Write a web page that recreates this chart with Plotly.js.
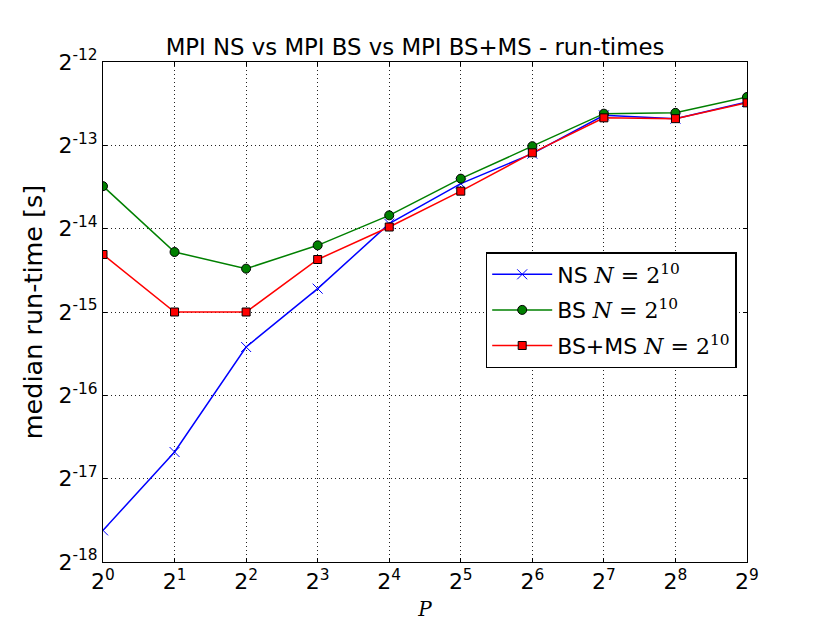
<!DOCTYPE html>
<html>
<head>
<meta charset="utf-8">
<script src="https://cdn.plot.ly/plotly-3.0.1.min.js"></script>
<style>html,body{margin:0;padding:0;background:#fff;}#chart{width:830px;height:623px;}</style>
</head>
<body>
<div id="chart"></div>
<script>
// Processor counts P
const P = [1, 2, 4, 8, 16, 32, 64, 128, 256, 512];
// log2 of median run-time [s]
const nsLog2   = [-17.62, -16.68, -15.42, -14.72, -13.94, -13.46, -13.10, -12.64, -12.68, -12.48];
const bsLog2   = [-13.49, -14.28, -14.48, -14.20, -13.84, -13.40, -13.01, -12.62, -12.61, -12.42];
const bsmsLog2 = [-14.31, -15.00, -15.00, -14.37, -13.98, -13.55, -13.09, -12.67, -12.68, -12.49];
const xTickExp = [0,1,2,3,4,5,6,7,8,9];
const yTickExp = [-18,-17,-16,-15,-14,-13,-12];
const mathN = '<span style="font-family:DejaVu Serif, serif"><i>N</i> = 2<sup>10</sup></span>';
const seriesNames = ['NS ' + mathN, 'BS ' + mathN, 'BS+MS ' + mathN];

const toVal = a => a.map(e => Math.pow(2, e));

const traces = [
  {x: P, y: toVal(nsLog2), name: seriesNames[0], legendgroup: 'a', mode: 'lines+markers',
   line: {color: '#0000ff', width: 1.5},
   marker: {symbol: 'x-thin', size: 10, color: '#0000ff', line: {color: '#0000ff', width: 1}}},
  {x: P, y: toVal(bsLog2), name: seriesNames[1], legendgroup: 'b', mode: 'lines+markers',
   line: {color: '#008000', width: 1.5},
   marker: {symbol: 'circle', size: 9, color: '#008000', line: {color: '#000', width: 1}}},
  {x: P, y: toVal(bsmsLog2), name: seriesNames[2], legendgroup: 'c', mode: 'lines+markers',
   line: {color: '#ff0000', width: 1.5},
   marker: {symbol: 'square', size: 8, color: '#ff0000', line: {color: '#000', width: 1}}}
];

const font = 'DejaVu Sans, sans-serif';
const axisCommon = {
  tickfont: {size: 22, family: font},
  ticks: 'inside', ticklen: 4, tickcolor: '#000', mirror: 'ticks',
  showline: true, linecolor: '#000', linewidth: 1,
  showgrid: true, gridcolor: '#222', griddash: '1px,3px', gridwidth: 1,
  zeroline: false
};
const layout = {
  width: 830, height: 623,
  margin: {l: 103, r: 83, t: 62, b: 61},
  paper_bgcolor: '#fff', plot_bgcolor: '#fff',
  font: {family: font, color: '#000'},
  title: {text: 'MPI NS vs MPI BS vs MPI BS+MS - run-times', font: {size: 22.8, family: font}, x: 0.5, xanchor: 'center', y: 0.925, yanchor: 'middle'},
  xaxis: Object.assign({}, axisCommon, {
    type: 'log', range: [0, 9 * Math.log10(2)],
    tickvals: xTickExp.map(e => Math.pow(2, e)),
    ticktext: xTickExp.map(e => '2<sup>' + e + '</sup>'),
    title: {text: '<i>P</i>', font: {size: 20, family: 'DejaVu Serif, serif'}, standoff: 8}
  }),
  yaxis: Object.assign({}, axisCommon, {
    type: 'log', range: [-18 * Math.log10(2), -12 * Math.log10(2)],
    tickvals: yTickExp.map(e => Math.pow(2, e)),
    ticktext: yTickExp.map(e => '2<sup>' + e + '</sup>'),
    title: {text: 'median run-time [s]', font: {size: 25.5, family: font}, standoff: 8}
  }),
  legend: {
    x: 0.984, y: 0.62, xanchor: 'right', yanchor: 'top',
    bgcolor: '#fff', bordercolor: '#000', borderwidth: 1.5,
    font: {size: 22, family: font}, itemwidth: 60, tracegroupgap: 4
  },
  showlegend: true
};

Plotly.newPlot('chart', traces, layout, {displayModeBar: false, staticPlot: true});
</script>
</body>
</html>
